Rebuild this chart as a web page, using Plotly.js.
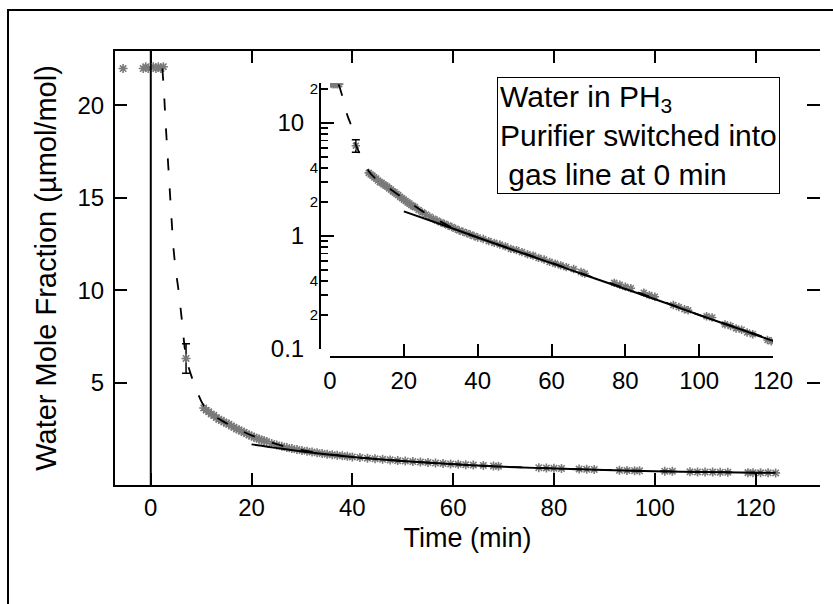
<!DOCTYPE html>
<html>
<head>
<meta charset="utf-8">
<script src="https://cdn.plot.ly/plotly-3.0.1.min.js"></script>
<style>
html,body{margin:0;padding:0;background:#fff;overflow:hidden;}
#wrap{position:relative;width:833px;height:604px;overflow:hidden;}
#chart{width:833px;height:604px;}
#frame{position:absolute;left:7px;top:9px;width:900px;height:700px;border-top:2px solid #000;border-left:2px solid #000;pointer-events:none;}
</style>
</head>
<body>
<div id="wrap">
<div id="chart"></div>
<div id="frame"></div>
</div>
<script>
// ---- data ----
const dataTime = [-5.5, -1.5, -1.0, -0.5, 0.5, 1.0, 1.5, 2.0, 2.5,
  10.5, 11.0, 11.5, 12.0, 12.5, 13.0, 13.5, 14.0, 14.5, 15.0, 15.5, 16.0, 16.5, 17.0, 17.5, 18.0, 18.5, 19.0, 19.5, 20.0,
  20.5, 21.0, 21.5, 22.0, 22.5, 23.0, 24.0, 25.0, 26.0, 27.0, 28.0, 29.0, 30.0, 31.0, 32.0, 33.0, 34.0, 35.0, 36.0, 37.0,
  38.0, 39.0, 40.0, 41.5, 43.0, 44.5, 46.0, 47.5, 49.0, 50.5, 52.0, 53.5, 55.0, 56.5, 58.0, 59.5, 61.0, 62.5, 64.0, 66.0,
  68.0, 69.0, 77.0, 78.5, 80.0, 81.5, 85.0, 86.5, 88.0, 93.0, 94.5, 96.0, 97.0, 102.0, 103.5, 107.0, 108.5, 110.0, 111.5,
  113.0, 114.5, 118.5, 119.5, 121.0, 122.5, 124.0];
const dataValue = [22.0, 22.0, 22.1, 22.0, 22.1, 22.0, 22.1, 22.0, 22.1,
  3.62, 3.50, 3.42, 3.30, 3.22, 3.10, 3.00, 2.95, 2.86, 2.80, 2.74, 2.64, 2.58, 2.48, 2.44, 2.36, 2.30, 2.22, 2.16, 2.10,
  2.04, 1.98, 1.94, 1.88, 1.84, 1.80, 1.70, 1.62, 1.55, 1.48, 1.42, 1.37, 1.32, 1.28, 1.24, 1.20, 1.16, 1.12, 1.09, 1.06,
  1.03, 1.00, 0.97, 0.94, 0.90, 0.87, 0.84, 0.81, 0.77, 0.75, 0.72, 0.69, 0.67, 0.64, 0.62, 0.59, 0.57, 0.55, 0.53, 0.51,
  0.48, 0.465, 0.385, 0.37, 0.355, 0.345, 0.315, 0.30, 0.29, 0.245, 0.235, 0.225, 0.22, 0.195, 0.19, 0.165, 0.16, 0.152, 0.148,
  0.14, 0.135, 0.12, 0.117, 0.112, 0.108, 0.104];

const errTime = [7.0];
const errValue = [6.3];
const errSize = [0.8];

// dashed fit curve (fast decay)
const fastFitTime = [2.3, 2.6, 3.0, 3.5, 4.0, 4.5, 5.0, 5.5, 6.2, 7.0, 8.0, 9.2, 10.5, 12, 14, 16, 18, 20, 22, 25, 28, 32, 36, 40, 50, 60, 70, 80, 90, 100, 110, 124];
const fastFitValue = [22.0, 20.8, 18.8, 16.6, 14.4, 12.3, 11.0, 10.0, 8.3, 6.4, 5.4, 4.5, 3.75, 3.3, 2.95, 2.65, 2.38, 2.14, 1.93, 1.66, 1.45, 1.24, 1.09, 0.97, 0.75, 0.58, 0.445, 0.345, 0.265, 0.2, 0.155, 0.108];

// solid fit line (from 20 min on)
const slowFitTime = [20, 30, 40, 50, 60, 70, 80, 90, 100, 110, 120, 124];
const slowFitValue = [1.65, 1.27, 0.97, 0.745, 0.575, 0.44, 0.34, 0.262, 0.2, 0.154, 0.118, 0.107];

const switchTime = 0;

// tick labels
const xTicks = [0, 20, 40, 60, 80, 100, 120];
const yTicks = [5, 10, 15, 20];
const insetMajorTicks = [0.1, 1, 10];
const insetMajorText = ['0.1', '1', '10'];
const insetMinorTicks = [0.2, 0.3, 0.4, 0.5, 0.6, 0.7, 0.8, 0.9, 2, 3, 4, 5, 6, 7, 8, 9, 20];
const insetSmallLabelVals = [0.2, 0.4, 2, 4, 20];
const insetSmallLabelText = ['2', '4', '2', '4', '2'];

const legendText = 'Water in PH<sub>3</sub><br>Purifier switched into<br>&nbsp;gas line at 0 min';
const xTitle = 'Time (min)';
const yTitle = 'Water Mole Fraction (µmol/mol)';

// ---- styling ----
const FONT = 'Liberation Sans, Arial, Helvetica, sans-serif';
const markerStyle = (sz) => ({symbol: 'asterisk-open', size: sz, color: '#7a7a7a', line: {color: '#7a7a7a', width: 1.6}});
const errStyle = {type: 'data', array: errSize, color: 'black', thickness: 1.5, width: 4};

function series(xa, ya, msize) {
  return [
    {x: dataTime, y: dataValue, mode: 'markers', marker: markerStyle(msize), xaxis: xa, yaxis: ya, hoverinfo: 'skip'},
    {x: errTime, y: errValue, mode: 'markers', marker: markerStyle(msize), error_y: errStyle, xaxis: xa, yaxis: ya, hoverinfo: 'skip'},
    {x: fastFitTime, y: fastFitValue, mode: 'lines', line: {color: 'black', width: 1.8, dash: '12px,18px', shape: 'spline'}, xaxis: xa, yaxis: ya, hoverinfo: 'skip'},
    {x: slowFitTime, y: slowFitValue, mode: 'lines', line: {color: 'black', width: 2, shape: 'spline'}, xaxis: xa, yaxis: ya, hoverinfo: 'skip'}
  ];
}

const traces = [].concat(
  series('x', 'y', 7.5),
  series('x2', 'y2', 7),
  [
    {x: slowFitTime, y: slowFitValue, mode: 'lines', line: {color: 'rgba(0,0,0,0)', width: 0.1}, xaxis: 'x2', yaxis: 'y3', hoverinfo: 'skip'},
    {x: slowFitTime, y: slowFitValue, mode: 'lines', line: {color: 'rgba(0,0,0,0)', width: 0.1}, xaxis: 'x', yaxis: 'y4', hoverinfo: 'skip'}
  ]
);

// plot area 115..820 px wide, 51..485 px high
const W = 705, H = 434, L = 115, B = 485;
const px = (p) => (p - L) / W;
const py = (p) => (B - p) / H;

const mainYRange = [-0.55, 22.95];
const insetYRange = [-1, 1.354];

const axBase = {showgrid: false, zeroline: false, showline: true, linecolor: 'black', linewidth: 2,
  ticks: 'inside', tickcolor: 'black', tickwidth: 2, automargin: false};

const layout = {
  width: 833, height: 604,
  margin: {l: L, r: 833 - 820, t: 51, b: 604 - B, pad: 0},
  paper_bgcolor: 'white', plot_bgcolor: 'rgba(0,0,0,0)',
  showlegend: false,
  font: {family: FONT, color: 'black'},
  xaxis: Object.assign({}, axBase, {domain: [0, 1], range: [-7.1, 132.8], tickvals: xTicks, ticklen: 12,
    mirror: 'ticks', tickfont: {size: 24}, anchor: 'y',
    title: {text: xTitle, font: {size: 27}, standoff: 8}}),
  yaxis: Object.assign({}, axBase, {domain: [0, 1], range: mainYRange, tickvals: yTicks, ticklen: 12,
    tickfont: {size: 24}, anchor: 'x', ticklabelstandoff: 4,
    title: {text: yTitle, font: {size: 29}, standoff: 12}}),
  yaxis4: {overlaying: 'y', side: 'right', anchor: 'x', range: mainYRange, tickvals: yTicks, ticks: 'inside',
    ticklen: 13, tickwidth: 2, tickcolor: 'black', showticklabels: false, showline: false, showgrid: false, zeroline: false},
  xaxis2: Object.assign({}, axBase, {domain: [px(330), px(773)], range: [0, 120], anchor: 'free', position: py(357),
    tickvals: xTicks, ticklen: 12, tickfont: {size: 24}, ticklabelstandoff: 2}),
  yaxis2: Object.assign({}, axBase, {domain: [py(349), py(83)], type: 'log', range: insetYRange, anchor: 'free', position: px(320),
    tickvals: insetMajorTicks, ticktext: insetMajorText, ticklen: 13, tickfont: {size: 24}, ticklabelstandoff: 10,
    minor: {tickvals: insetMinorTicks, ticks: 'inside', ticklen: 7, tickwidth: 1.5, tickcolor: 'black', showgrid: false}}),
  yaxis3: {overlaying: 'y2', type: 'log', range: insetYRange, anchor: 'free', position: px(320), domain: [py(349), py(83)],
    tickvals: insetSmallLabelVals, ticktext: insetSmallLabelText, ticks: '', showline: false, showgrid: false, zeroline: false,
    tickfont: {size: 15}, ticklabelstandoff: 2, automargin: false},
  shapes: [
    {type: 'line', xref: 'x', yref: 'paper', x0: switchTime, x1: switchTime, y0: 0, y1: 1, line: {color: 'black', width: 2}}
  ],
  annotations: [
    {xref: 'paper', yref: 'paper', x: px(497), y: py(77), xanchor: 'left', yanchor: 'top', align: 'left', showarrow: false,
      text: legendText, font: {size: 30, family: FONT, color: 'black'}, bordercolor: 'black', borderwidth: 1, borderpad: 2, bgcolor: 'white'}
  ]
};

Plotly.newPlot('chart', traces, layout, {staticPlot: true, displayModeBar: false});
</script>
</body>
</html>
